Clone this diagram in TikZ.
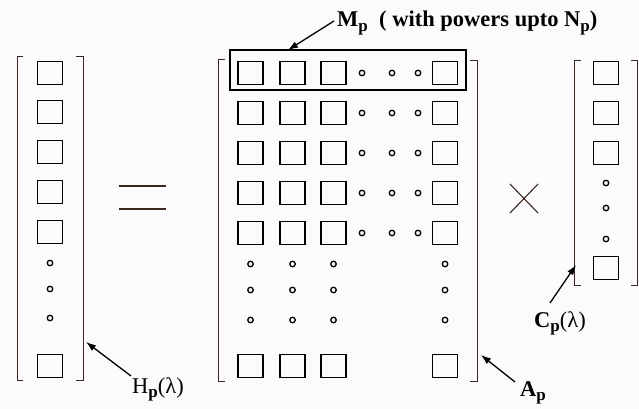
\documentclass[tikz,border=0pt]{standalone}
\usepackage{xcolor}
\usepackage{fontspec}
\setmainfont{Liberation Serif}
\usepackage{tikz}
\usetikzlibrary{arrows}
\usetikzlibrary{arrows.meta}
\tikzset{>=latex}
\definecolor{brkcol}{RGB}{60,38,30}
\definecolor{paper}{RGB}{251,251,253}
\tikzstyle{cell} = [rectangle, draw, line width=1.5pt, minimum width=25pt, minimum height=23pt, inner sep=0]
\tikzstyle{vdot} = [circle, draw, line width=1.3pt, inner sep=0, minimum size=5.5pt]
\tikzstyle{brk} = [-, line width=0.9pt, draw=brkcol]
\tikzstyle{lbl} = [draw=none, inner sep=1, font=\fontsize{22.5}{26}\selectfont]
\tikzstyle{ptr} = [-{Latex[length=10pt, width=7pt]}, line width=1.3pt]
\newcommand{\pidx}[1]{\raisebox{-0.45ex}{\fontsize{17}{17}\selectfont\bfseries #1}}

\begin{document}
\begin{tikzpicture}[x=1pt, y=-1pt]
\fill [paper] (0,0) rectangle (639,409);
\useasboundingbox (0,0) rectangle (639,409);

% H_p(lambda)
\foreach \i/\y in {1/73,2/112,3/152,4/192,5/232}
  \node [cell] (H\i) at (50,\y) {};
\foreach \i/\y in {1/263,2/289,3/318}
  \node [vdot] (Hd\i) at (50,\y) {};
\node [cell] (Hn) at (50,366) {};
\draw [brk] (23,56) -- (17,56) -- (17,380) -- (23,380);
\draw [brk] (76,56) -- (83,56) -- (83,380) -- (76,380);

% equals
\draw [brk, line width=1.1pt] (119,186) -- (166,186);
\draw [brk, line width=1.1pt] (119,209) -- (166,209);

% A_p
\foreach \r/\y in {1/73,2/113,3/153,4/193,5/233,n/366} {
  \foreach \c/\x in {1/250.5,2/292.5,3/333.5,n/445}
    \node [cell] (A\r\c) at (\x,\y) {};
}
\foreach \r/\y in {1/73,2/113,3/153,4/193,5/233} {
  \foreach \c/\x in {1/362,2/392,3/418}
    \node [vdot] (Ar\r\c) at (\x,\y) {};
}
\foreach \r/\y in {1/264,2/290,3/320} {
  \foreach \c/\x in {1/250.5,2/292.5,3/333.5,n/445}
    \node [vdot] (Ac\r\c) at (\x,\y) {};
}
\draw [brk] (225,59) -- (218,59) -- (218,381) -- (225,381);
\draw [brk] (470,60) -- (477,60) -- (477,381) -- (470,381);
\node [rectangle, draw, line width=1.3pt, minimum width=236pt, minimum height=40pt] (Mp) at (348,70) {};

% times
\draw [brk, line width=1.1pt] (510,184) -- (538,213);
\draw [brk, line width=1.1pt] (510,213) -- (538,184);

% C_p(lambda)
\foreach \i/\y in {1/73,2/113,3/153}
  \node [cell] (C\i) at (606,\y) {};
\foreach \i/\y in {1/183,2/208,3/239}
  \node [vdot] (Cd\i) at (606,\y) {};
\node [cell] (Cn) at (606,268) {};
\draw [brk] (581,60) -- (574,60) -- (574,285) -- (581,285);
\draw [brk] (631,60) -- (637,60) -- (637,285) -- (631,285);

% labels and pointers
\node [lbl, anchor=base west] (Mlab) at (336,27) {\bfseries M\pidx{p}\ \ ( with powers upto N\pidx{p})};
\node [lbl, anchor=base west] (Hlab) at (131,393) {H\pidx{p}(λ)};
\node [lbl, anchor=base west] (Clab) at (533,327) {\bfseries C\pidx{p}\mdseries(λ)};
\node [lbl, anchor=base west] (Alab) at (519,396) {\bfseries A\pidx{p}};
\coordinate (mtip) at (288,50);
\coordinate (htip) at (86,342);
\coordinate (ctip) at (576,265);
\coordinate (atip) at (481,355);
\draw [ptr] (334,21) to (mtip);
\draw [ptr] (Hlab.north west) to (htip);
\draw [ptr] (550,303) to (ctip);
\draw [ptr] (515,382) to (atip);
\end{tikzpicture}
\end{document}
